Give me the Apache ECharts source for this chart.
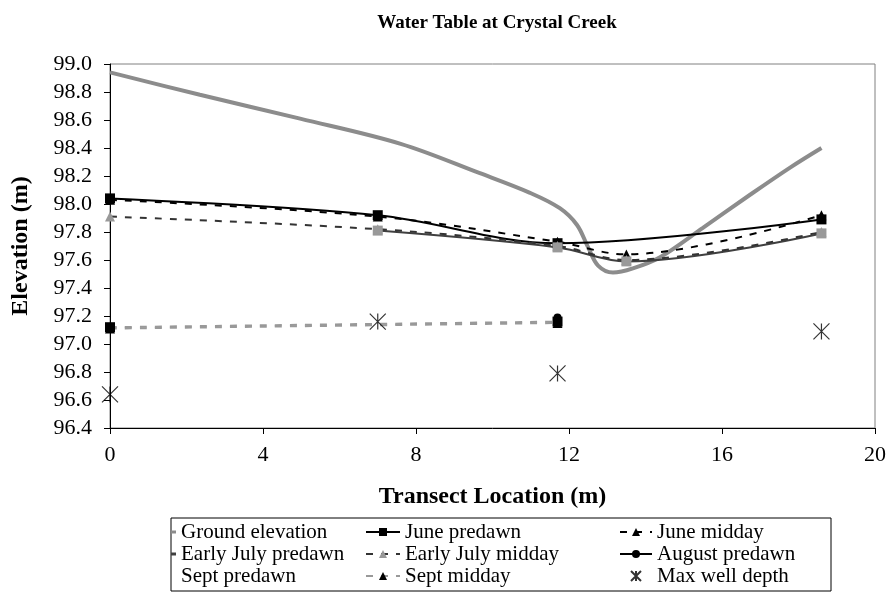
<!DOCTYPE html>
<html>
<head>
<meta charset="utf-8">
<title>Water Table at Crystal Creek</title>
<script src="https://cdn.jsdelivr.net/npm/echarts@6.0.0/dist/echarts.min.js"></script>
<style>
  html, body { margin: 0; padding: 0; background: #fff; }
  #main { width: 890px; height: 593px; }
</style>
</head>
<body>
<div id="main"></div>
<script>
// transect location (m) / elevation (m) pairs
const groundElevation = [
  [0, 98.94], [2.35, 98.78], [4.97, 98.61], [7.6, 98.43],
  [9.67, 98.22], [10.98, 98.08], [11.76, 97.97], [12.21, 97.85], [12.5, 97.69],
  [12.76, 97.56], [13.15, 97.51], [13.67, 97.54], [14.38, 97.62], [15.5, 97.83],
  [16.65, 98.05], [17.78, 98.26], [18.6, 98.4]
];
const junePredawn = [[0, 98.04], [7, 97.92], [11.7, 97.72], [18.6, 97.89]];
const juneMidday = [[0, 98.03], [7, 97.91], [11.7, 97.73], [13.5, 97.64], [18.6, 97.92]];
const earlyJulyPredawn = [[7, 97.81], [11.7, 97.69], [13.5, 97.59], [18.6, 97.79]];
const earlyJulyMidday = [[0, 97.91], [7, 97.82], [11.7, 97.7], [13.5, 97.6], [18.6, 97.8]];
const augustPredawn = [[11.7, 97.19]];
const septPredawn = [[0, 97.12], [11.7, 97.16]];
const septMidday = [[0, 97.11], [11.7, 97.15]];
const maxWellDepth = [[0, 96.64], [7, 97.16], [11.7, 96.79], [18.6, 97.09]];

const xRange = [0, 20, 4];      // min, max, step
const yRange = [96.4, 99.0, 0.2];

const serif = 'Liberation Serif';
const grey = '#8c8c8c';
const lightGrey = '#999999';
const darkGrey = '#404040';
const dash = [7, 8];
const starPath = 'path://M0,0L16,16M16,0L0,16M8,0L8,16';

var chart = echarts.init(document.getElementById('main'));

function lineSeries(name, data, color, type, symbol, symbolColor, width) {
  return {
    name: name,
    type: 'line',
    data: data,
    smooth: 0.35,
    symbol: symbol,
    symbolSize: symbol === 'circle' ? 8 : 10,
    showSymbol: symbol !== 'none',
    lineStyle: { color: color, width: width || 2, type: type },
    itemStyle: { color: symbolColor || color },
    emphasis: { disabled: true },
    animation: false
  };
}

const legendText = { fontFamily: serif, fontSize: 21, color: '#000', lineHeight: 22 };

var option = {
  animation: false,
  title: {
    text: 'Water Table at Crystal Creek',
    left: 492,
    textAlign: 'center',
    top: 9,
    textStyle: { fontFamily: serif, fontSize: 19, fontWeight: 'bold', color: '#000' }
  },
  grid: {
    left: 110, right: 15, top: 64, bottom: 165,
    show: true, borderColor: '#808080', borderWidth: 1
  },
  xAxis: {
    type: 'value',
    min: xRange[0], max: xRange[1], interval: xRange[2],
    name: 'Transect Location (m)',
    nameLocation: 'middle',
    nameGap: 57,
    nameTextStyle: { fontFamily: serif, fontSize: 24, fontWeight: 'bold', color: '#000' },
    axisLine: { lineStyle: { color: '#000', width: 1 } },
    axisTick: { length: 6, lineStyle: { color: '#000' } },
    axisLabel: { fontFamily: serif, fontSize: 22, color: '#000', margin: 16 },
    splitLine: { show: false }
  },
  yAxis: {
    type: 'value',
    min: yRange[0], max: yRange[1], interval: yRange[2],
    name: 'Elevation (m)',
    nameLocation: 'middle',
    nameGap: 77,
    nameTextStyle: { fontFamily: serif, fontSize: 24, fontWeight: 'bold', color: '#000' },
    axisLine: { show: true, lineStyle: { color: '#000', width: 1 } },
    axisTick: { show: true, length: 6, lineStyle: { color: '#000' } },
    axisLabel: {
      fontFamily: serif, fontSize: 22, color: '#000', margin: 18,
      formatter: function (v) { return v.toFixed(1); }
    },
    splitLine: { show: false }
  },
  legend: [
    {
      orient: 'vertical', left: 171, top: 521, padding: 0,
      itemWidth: 5, itemHeight: 3, itemGap: 0,
      textStyle: legendText,
      data: [
        { name: 'Ground elevation', icon: 'rect', itemStyle: { color: grey } },
        { name: 'Early July predawn', icon: 'rect', itemStyle: { color: darkGrey } },
        { name: 'Sept predawn', icon: 'rect', itemStyle: { color: 'rgba(0,0,0,0)' } }
      ]
    },
    {
      orient: 'vertical', left: 365, top: 521, padding: 0,
      itemWidth: 34, itemHeight: 10, itemGap: 0,
      textStyle: legendText,
      data: ['June predawn', 'Early July midday', 'Sept midday']
    },
    {
      orient: 'vertical', left: 619, top: 521, padding: 0,
      itemWidth: 32, itemHeight: 10, itemGap: 0,
      textStyle: legendText,
      data: ['June midday', 'August predawn', 'Max well depth']
    }
  ],
  graphic: [{
    type: 'rect',
    shape: { x: 171, y: 518, width: 660, height: 73 },
    style: { fill: 'none', stroke: '#000', lineWidth: 1 },
    silent: true
  }],
  series: [
    lineSeries('Ground elevation', groundElevation, grey, 'solid', 'none', grey, 4),
    lineSeries('June predawn', junePredawn, '#000', 'solid', 'rect', '#000'),
    lineSeries('June midday', juneMidday, '#000', dash, 'triangle', '#000'),
    lineSeries('Early July predawn', earlyJulyPredawn, darkGrey, 'solid', 'rect', lightGrey),
    lineSeries('Early July midday', earlyJulyMidday, '#333', dash, 'triangle', lightGrey),
    lineSeries('August predawn', augustPredawn, '#000', 'solid', 'circle', '#000'),
    lineSeries('Sept predawn', septPredawn, lightGrey, dash, 'rect', '#000'),
    lineSeries('Sept midday', septMidday, lightGrey, dash, 'triangle', '#000'),
    {
      name: 'Max well depth',
      type: 'scatter',
      data: maxWellDepth,
      symbol: starPath,
      symbolSize: 16,
      itemStyle: { color: 'none', borderColor: '#000', borderWidth: 1.2 },
      emphasis: { disabled: true },
      z: 3
    }
  ]
};

chart.setOption(option);
</script>
</body>
</html>
